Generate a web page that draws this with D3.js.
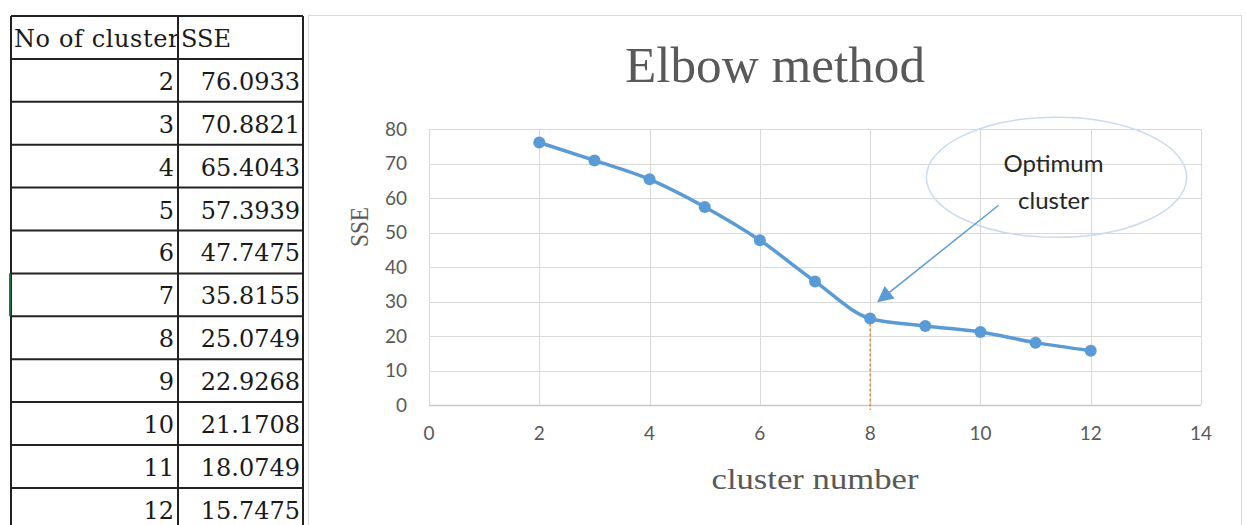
<!DOCTYPE html>
<html>
<head>
<meta charset="utf-8">
<script src="https://cdn.jsdelivr.net/npm/d3@7"></script>
<style>
  body { margin: 0; background: #fff; }
  svg { display: block; }
</style>
</head>
<body>
<svg id="chart"></svg>
<script>
// data
var clusters = [2, 3, 4, 5, 6, 7, 8, 9, 10, 11, 12];
var sseValues = [76.0933, 70.8821, 65.4043, 57.3939, 47.7475, 35.8155, 25.0749, 22.9268, 21.1708, 18.0749, 15.7475];
var xTicks = [0, 2, 4, 6, 8, 10, 12, 14];
var yTicks = [0, 10, 20, 30, 40, 50, 60, 70, 80];
var tableHeader = ['No of cluster', 'SSE'];
var optimumCluster = 8;

var svgWidth = 1246,
    svgHeight = 525;

var svg = d3.select('#chart')
    .attr('width', svgWidth)
    .attr('height', svgHeight);

svg.append('rect')
    .attr('width', svgWidth)
    .attr('height', svgHeight)
    .attr('fill', '#fff');

// ---- the spreadsheet table on the left ----
var tbl = {left: 11, mid: 178, right: 303, top: 16, rowH: 42.9};
var rowCount = clusters.length + 1;

var rowY = d3.scaleLinear()
    .domain([0, rowCount])
    .range([tbl.top, tbl.top + tbl.rowH * rowCount]);

var tableG = svg.append('g');

svg.append('defs').append('clipPath')
    .attr('id', 'firstCol')
    .append('rect')
    .attr('x', tbl.left)
    .attr('y', 0)
    .attr('width', tbl.mid - tbl.left - 1)
    .attr('height', svgHeight);

// header
tableG.append('text')
    .attr('clip-path', 'url(#firstCol)')
    .attr('x', tbl.left + 3)
    .attr('y', rowY(1) - 12)
    .attr('font-family', 'DejaVu Serif')
    .attr('font-size', 24)
    .attr('letter-spacing', 0.6)
    .attr('fill', '#1a1a1a')
    .text(tableHeader[0]);

tableG.append('text')
    .attr('x', tbl.mid + 3)
    .attr('y', rowY(1) - 12)
    .attr('font-family', 'DejaVu Serif')
    .attr('font-size', 24)
    .attr('fill', '#1a1a1a')
    .text(tableHeader[1]);

var rows = tableG.selectAll('.row')
    .data(clusters)
    .enter().append('g')
    .attr('class', 'row');

rows.append('text')
    .attr('x', tbl.mid - 4)
    .attr('y', function(d, i) { return rowY(i + 2) - 12; })
    .attr('text-anchor', 'end')
    .attr('font-family', 'DejaVu Serif')
    .attr('font-size', 24)
    .attr('fill', '#1a1a1a')
    .text(function(d) { return d; });

rows.append('text')
    .attr('x', tbl.right - 3)
    .attr('y', function(d, i) { return rowY(i + 2) - 12; })
    .attr('text-anchor', 'end')
    .attr('font-family', 'DejaVu Serif')
    .attr('font-size', 24)
    .attr('fill', '#1a1a1a')
    .text(function(d, i) { return d3.format('.4f')(sseValues[i]); });

// table borders
tableG.selectAll('.hline')
    .data(d3.range(rowCount + 1))
    .enter().append('line')
    .attr('x1', tbl.left)
    .attr('x2', tbl.right)
    .attr('y1', function(d) { return rowY(d); })
    .attr('y2', function(d) { return rowY(d); })
    .attr('stroke', '#222')
    .attr('stroke-width', 2);

[tbl.left, tbl.mid, tbl.right].forEach(function(x) {
    tableG.append('line')
        .attr('x1', x).attr('x2', x)
        .attr('y1', rowY(0)).attr('y2', rowY(rowCount))
        .attr('stroke', '#222')
        .attr('stroke-width', 2);
});

// green selection mark on row of cluster 7
tableG.append('line')
    .attr('x1', tbl.left - 1).attr('x2', tbl.left - 1)
    .attr('y1', rowY(6)).attr('y2', rowY(7))
    .attr('stroke', '#217346')
    .attr('stroke-width', 2);

// ---- chart panel ----
svg.append('rect')
    .attr('x', 308.5)
    .attr('y', 15.5)
    .attr('width', 933)
    .attr('height', 530)
    .attr('fill', '#fff')
    .attr('stroke', '#d9d9d9');

var x = d3.scaleLinear()
    .domain([0, 14])
    .range([429, 1201]);

var y = d3.scaleLinear()
    .domain([0, 80])
    .range([405, 129]);

var g = svg.append('g');

// gridlines
g.selectAll('.hgrid')
    .data(yTicks)
    .enter().append('line')
    .attr('x1', x(0)).attr('x2', x(14))
    .attr('y1', function(d) { return Math.round(y(d)) + 0.5; })
    .attr('y2', function(d) { return Math.round(y(d)) + 0.5; })
    .attr('stroke', function(d) { return d === 0 ? '#c8c8c8' : '#d9d9d9'; })
    .attr('stroke-width', function(d) { return d === 0 ? 1.5 : 1; });

g.selectAll('.vgrid')
    .data(xTicks)
    .enter().append('line')
    .attr('x1', function(d) { return Math.round(x(d)) + 0.5; })
    .attr('x2', function(d) { return Math.round(x(d)) + 0.5; })
    .attr('y1', y(80)).attr('y2', y(0))
    .attr('stroke', '#d9d9d9');

// tick labels
g.selectAll('.ylab')
    .data(yTicks)
    .enter().append('text')
    .attr('x', x(0) - 22)
    .attr('y', function(d) { return y(d); })
    .attr('dy', '0.35em')
    .attr('text-anchor', 'end')
    .attr('font-family', 'Lato')
    .attr('font-size', 19)
    .attr('fill', '#595959')
    .text(function(d) { return d; });

g.selectAll('.xlab')
    .data(xTicks)
    .enter().append('text')
    .attr('x', function(d) { return x(d); })
    .attr('y', y(0) + 35)
    .attr('text-anchor', 'middle')
    .attr('font-family', 'Lato')
    .attr('font-size', 19)
    .attr('fill', '#595959')
    .text(function(d) { return d; });

// titles
svg.append('text')
    .attr('x', 775)
    .attr('y', 82)
    .attr('text-anchor', 'middle')
    .attr('font-family', 'Liberation Serif')
    .attr('font-size', 50)
    .attr('fill', '#595959')
    .attr('textLength', 300)
    .attr('lengthAdjust', 'spacingAndGlyphs')
    .text('Elbow method');

svg.append('text')
    .attr('x', (x(0) + x(14)) / 2)
    .attr('y', 489)
    .attr('text-anchor', 'middle')
    .attr('font-family', 'Liberation Serif')
    .attr('font-size', 30)
    .attr('fill', '#595959')
    .attr('textLength', 207)
    .attr('lengthAdjust', 'spacingAndGlyphs')
    .text('cluster number');

svg.append('text')
    .attr('transform', 'translate(368,227) rotate(-90)')
    .attr('text-anchor', 'middle')
    .attr('font-family', 'Liberation Serif')
    .attr('font-size', 25)
    .attr('fill', '#595959')
    .attr('textLength', 40)
    .attr('lengthAdjust', 'spacingAndGlyphs')
    .text('SSE');

// dashed drop line at the optimum
var optIdx = clusters.indexOf(optimumCluster);
g.append('line')
    .attr('x1', x(optimumCluster)).attr('x2', x(optimumCluster))
    .attr('y1', y(sseValues[optIdx]))
    .attr('y2', y(0) + 5)
    .attr('stroke', '#ed7d31')
    .attr('stroke-width', 1.3)
    .attr('stroke-dasharray', '3,2');

// the series
var line = d3.line()
    .x(function(d, i) { return x(clusters[i]); })
    .y(function(d) { return y(d); })
    .curve(d3.curveMonotoneX);

g.append('path')
    .datum(sseValues)
    .attr('d', line)
    .attr('fill', 'none')
    .attr('stroke', '#5b9bd5')
    .attr('stroke-width', 3.5)
    .attr('stroke-linejoin', 'round');

g.selectAll('.dot')
    .data(sseValues)
    .enter().append('circle')
    .attr('cx', function(d, i) { return x(clusters[i]); })
    .attr('cy', function(d) { return y(d); })
    .attr('r', 6)
    .attr('fill', '#5b9bd5');

// annotation: ellipse, text and arrow (positions in data units)
var calloutCenter = [11.38, 66];
var calloutRadius = [2.36, 17.4];
var calloutLines = ['Optimum', 'cluster'];
var arrowFrom = [10.33, 57.9];
var arrowTo = [8.15, 30.1];

g.append('ellipse')
    .attr('cx', x(calloutCenter[0]))
    .attr('cy', y(calloutCenter[1]))
    .attr('rx', x(calloutRadius[0]) - x(0))
    .attr('ry', y(0) - y(calloutRadius[1]))
    .attr('fill', 'none')
    .attr('stroke', '#c9dcef')
    .attr('stroke-width', 1.5);

g.selectAll('.callout')
    .data(calloutLines)
    .enter().append('text')
    .attr('x', x(calloutCenter[0]) - 3)
    .attr('y', function(d, i) { return y(calloutCenter[1]) - 5 + i * 37; })
    .attr('text-anchor', 'middle')
    .attr('font-family', 'Lato')
    .attr('font-size', 24)
    .attr('fill', '#262626')
    .text(function(d) { return d; });

svg.select('defs').append('marker')
    .attr('id', 'arrowhead')
    .attr('viewBox', '0 0 10 10')
    .attr('refX', 9)
    .attr('refY', 5)
    .attr('markerWidth', 16)
    .attr('markerHeight', 16)
    .attr('markerUnits', 'userSpaceOnUse')
    .attr('orient', 'auto')
    .append('path')
    .attr('d', 'M0,0 L10,5 L0,10 z')
    .attr('fill', '#5b9bd5');

g.append('line')
    .attr('x1', x(arrowFrom[0]))
    .attr('y1', y(arrowFrom[1]))
    .attr('x2', x(arrowTo[0]))
    .attr('y2', y(arrowTo[1]))
    .attr('stroke', '#5b9bd5')
    .attr('stroke-width', 1.5)
    .attr('marker-end', 'url(#arrowhead)');
</script>
</body>
</html>
